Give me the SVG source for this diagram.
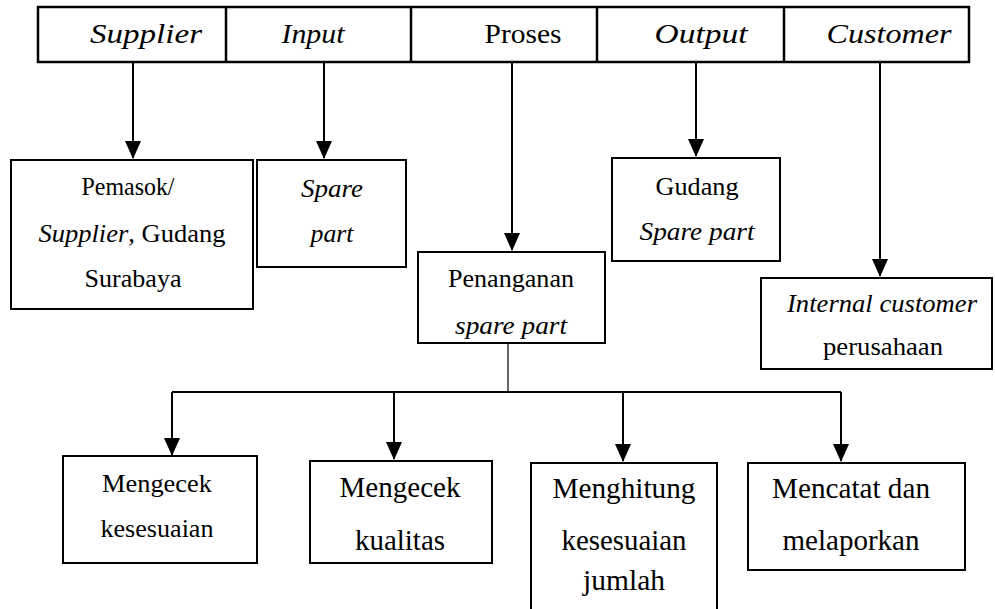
<svg xmlns="http://www.w3.org/2000/svg" width="995" height="609" viewBox="0 0 995 609">
<style>
.box{fill:#fff;stroke:#000;stroke-width:2}
.hdr{fill:#fff;stroke:#000;stroke-width:2.5}
.t{font-family:"Liberation Serif","Times New Roman",serif;font-size:26px;fill:#000;text-anchor:middle}
.big{font-size:29px}
.h{font-family:"Liberation Serif","Times New Roman",serif;font-size:28px;fill:#000;text-anchor:middle}
.i{font-style:italic}
.ln{stroke:#000;stroke-width:2;fill:none}
.thin{stroke:#000;stroke-width:1.2;fill:none}
</style>
<defs>
<marker id="ah" markerWidth="9" markerHeight="8" refX="8.5" refY="4" orient="auto" markerUnits="strokeWidth">
<path d="M0,0 L9,4 L0,8 Z" fill="#000"/>
</marker>
</defs>
<g id="header">
<rect class="hdr" x="38" y="7" width="931" height="55"/>
<line class="hdr" x1="226" y1="7" x2="226" y2="62"/>
<line class="hdr" x1="411" y1="7" x2="411" y2="62"/>
<line class="hdr" x1="597" y1="7" x2="597" y2="62"/>
<line class="hdr" x1="784" y1="7" x2="784" y2="62"/>
<text class="h i" x="146" y="43" textLength="112" lengthAdjust="spacingAndGlyphs">Supplier</text>
<text class="h i" x="313" y="43" textLength="63" lengthAdjust="spacingAndGlyphs">Input</text>
<text class="h" x="523" y="43" textLength="77" lengthAdjust="spacingAndGlyphs">Proses</text>
<text class="h i" x="701" y="43" textLength="93" lengthAdjust="spacingAndGlyphs">Output</text>
<text class="h i" x="889" y="43" textLength="125" lengthAdjust="spacingAndGlyphs">Customer</text>
</g>
<g id="connectors">
<line class="ln" x1="133" y1="62" x2="133" y2="158" marker-end="url(#ah)"/>
<line class="ln" x1="324" y1="62" x2="324" y2="158" marker-end="url(#ah)"/>
<line class="ln" x1="512" y1="62" x2="512" y2="250" marker-end="url(#ah)"/>
<line class="ln" x1="696" y1="62" x2="696" y2="156" marker-end="url(#ah)"/>
<line class="ln" x1="880" y1="62" x2="880" y2="276" marker-end="url(#ah)"/>
<line class="thin" x1="508" y1="343" x2="508" y2="392"/>
<polyline class="ln" points="172,392 841,392"/>
<line class="ln" x1="172" y1="392" x2="172" y2="455" marker-end="url(#ah)"/>
<line class="ln" x1="394" y1="392" x2="394" y2="459" marker-end="url(#ah)"/>
<line class="ln" x1="623" y1="392" x2="623" y2="461" marker-end="url(#ah)"/>
<line class="ln" x1="841" y1="392" x2="841" y2="461" marker-end="url(#ah)"/>
</g>
<g id="pemasok">
<rect class="box" x="11" y="160" width="242" height="149"/>
<text class="t" x="128" y="195" textLength="93" lengthAdjust="spacingAndGlyphs">Pemasok/</text>
<text class="t" x="132" y="242" textLength="187" lengthAdjust="spacingAndGlyphs"><tspan class="i">Supplier</tspan>, Gudang</text>
<text class="t" x="133" y="287" textLength="97" lengthAdjust="spacingAndGlyphs">Surabaya</text>
</g>
<g id="sparepart">
<rect class="box" x="257" y="160" width="149" height="107"/>
<text class="t i" x="332" y="197" textLength="62" lengthAdjust="spacingAndGlyphs">Spare</text>
<text class="t i" x="332" y="242" textLength="43" lengthAdjust="spacingAndGlyphs">part</text>
</g>
<g id="penanganan">
<rect class="box" x="418" y="252" width="187" height="91"/>
<text class="t" x="511" y="287" textLength="126" lengthAdjust="spacingAndGlyphs">Penanganan</text>
<text class="t i" x="511" y="334" textLength="112" lengthAdjust="spacingAndGlyphs">spare part</text>
</g>
<g id="gudang">
<rect class="box" x="612" y="158" width="168" height="103"/>
<text class="t" x="697" y="195" textLength="83" lengthAdjust="spacingAndGlyphs">Gudang</text>
<text class="t i" x="697" y="240" textLength="115" lengthAdjust="spacingAndGlyphs">Spare part</text>
</g>
<g id="internal">
<rect class="box" x="761" y="278" width="231" height="91"/>
<text class="t i" x="882" y="312" textLength="190" lengthAdjust="spacingAndGlyphs">Internal customer</text>
<text class="t" x="883" y="355" textLength="120" lengthAdjust="spacingAndGlyphs">perusahaan</text>
</g>
<g id="cek-kesesuaian">
<rect class="box" x="63" y="456" width="194" height="107"/>
<text class="t" x="157" y="492" textLength="110" lengthAdjust="spacingAndGlyphs">Mengecek</text>
<text class="t" x="157" y="537" textLength="113" lengthAdjust="spacingAndGlyphs">kesesuaian</text>
</g>
<g id="cek-kualitas">
<rect class="box" x="310" y="461" width="182" height="102"/>
<text class="t big" x="400" y="497" textLength="121" lengthAdjust="spacingAndGlyphs">Mengecek</text>
<text class="t big" x="400" y="550" textLength="90" lengthAdjust="spacingAndGlyphs">kualitas</text>
</g>
<g id="hitung">
<path class="box" d="M531,612 L531,463 L717,463 L717,612"/>
<text class="t big" x="624" y="498" textLength="143" lengthAdjust="spacingAndGlyphs">Menghitung</text>
<text class="t big" x="624" y="550" textLength="125" lengthAdjust="spacingAndGlyphs">kesesuaian</text>
<text class="t big" x="624" y="590" textLength="82" lengthAdjust="spacingAndGlyphs">jumlah</text>
</g>
<g id="catat">
<rect class="box" x="748" y="463" width="217" height="107"/>
<text class="t big" x="851" y="498" textLength="158" lengthAdjust="spacingAndGlyphs">Mencatat dan</text>
<text class="t big" x="851" y="550" textLength="137" lengthAdjust="spacingAndGlyphs">melaporkan</text>
</g>
</svg>
